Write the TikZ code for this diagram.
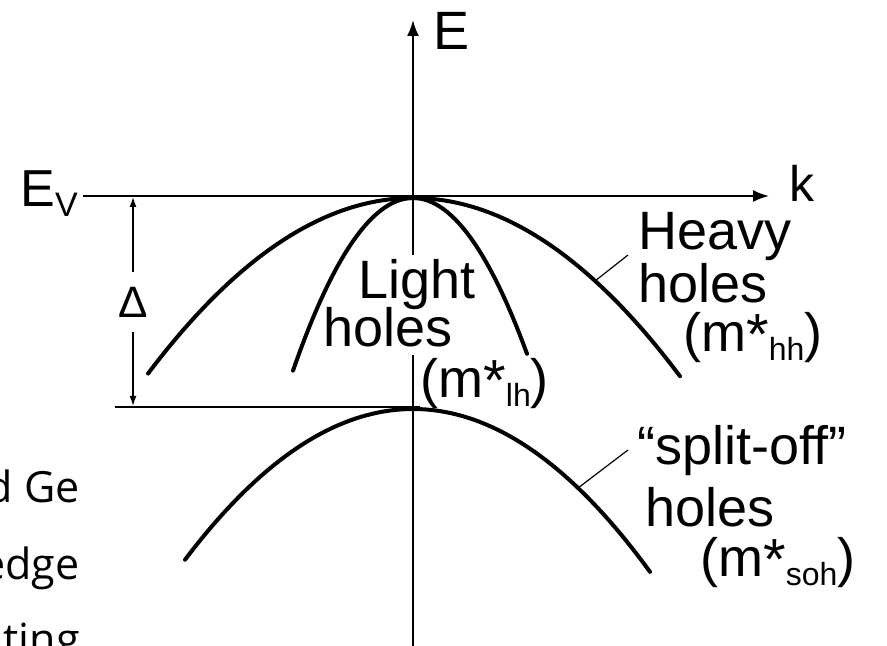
\documentclass[tikz,border=0pt]{standalone}
\usepackage{fontspec}
\setmainfont{Liberation Sans}
\newfontfamily\pagefont{Open Sans}
\usetikzlibrary{arrows.meta,positioning}
\newcommand{\lblsize}{\fontsize{27}{30}\selectfont}
\newcommand{\subsize}{\fontsize{16}{18}\selectfont}
\newcommand{\effmass}[1]{(m\raisebox{-1.5pt}{\fontsize{29}{29}\selectfont *}\raisebox{-4.5pt}{\subsize #1})}
\tikzset{
  band/.style={line width=2pt, line cap=round},
  axis/.style={line width=1pt, -{Latex[length=8pt,width=6pt]}},
  axisline/.style={line width=1pt},
  guide/.style={line width=0.8pt},
  dim/.style={line width=0.7pt, -{Latex[length=5pt,width=3.5pt]}},
  leader/.style={line width=0.6pt},
  lbl/.style={font=\lblsize, inner sep=0pt, anchor=base west},
  pagetext/.style={font=\pagefont\fontsize{21.5}{24}\selectfont, inner sep=0pt, anchor=base east}
}
\begin{document}
\begin{tikzpicture}[x=0.5pt,y=0.5pt]
        \useasboundingbox (0,0) rectangle (887,646);
        \clip (0,0) rectangle (887,646);
        \fill[white] (0,0) rectangle (887,646);
        % axes (E axis broken behind the light-hole label)
        \coordinate (Ebot) at (413,0);
        \coordinate (gapbot) at (413,291);
        \coordinate (gaptop) at (413,391);
        \coordinate (Etip) at (413,626);
        \coordinate (kstart) at (83,450);
        \coordinate (ktip) at (769,450);
        \draw[axisline] (Ebot) -- (gapbot);
        \draw[axis] (gaptop) -- (Etip);
        \draw[axis] (kstart) -- (ktip);
        \node[lbl,font=\fontsize{27}{30}\selectfont] (E) at (433,596) {E};
        \node[lbl,font=\fontsize{25}{28}\selectfont] (k) at (789,444) {k};
        \node[lbl,font=\fontsize{26}{30}\selectfont] (EV) at (20,439)
          {E\raisebox{-5pt}{\fontsize{17}{18}\selectfont V}};
        % split-off level and gap
        \coordinate (sostart) at (115,239);
        \coordinate (soend) at (420,239);
        \draw[guide] (sostart) -- (soend);
        \coordinate (dtop) at (133,449);
        \coordinate (dbot) at (133,240);
        \node[font=\fontsize{22}{24}\selectfont, inner xsep=0pt, inner ysep=7pt] (delta) at (133,344) {Δ};
        \draw[dim] (delta) -- (dtop);
        \draw[dim] (delta) -- (dbot);
        % bands
        \draw[band] plot[domain=148:680, samples=80] (\x, {448-(0.05*(\x-413))^2});
        \draw[band] plot[domain=293:527, samples=60] (\x, {448-(0.1095*(\x-413))^2});
        \draw[band] plot[domain=185:650, samples=80] (\x, {237-(0.05385*(\x-413))^2});
        % labels
        \node[lbl] (light) at (358,347) {Light};
        \node[lbl] (lightholes) at (323,299) {holes};
        \node[lbl] (lhmass) at (420,248) {\effmass{lh}};
        \node[lbl] (heavy) at (638,396) {Heavy};
        \node[lbl] (heavyholes) at (638,343) {holes};
        \node[lbl] (hhmass) at (683,294) {\effmass{hh}};
        \node[lbl] (split) at (637,181) {“split-off”};
        \node[lbl] (splitholes) at (645,119) {holes};
        \node[lbl] (sohmass) at (700,69) {\effmass{soh}};
        \coordinate (hhfoot) at (595,365);
        \coordinate (hhend) at (628,391);
        \draw[leader] (hhfoot) -- (hhend);
        \coordinate (sofoot) at (578,158);
        \coordinate (soleaderend) at (628,196);
        \draw[leader] (sofoot) -- (soleaderend);
        % cut-off page text at the left
        \node[pagetext] (pageA) at (80,143) {d Ge};
        \node[pagetext] (pageB) at (80,66) {edge};
        \node[pagetext] (pageC) at (80,-9) {ting};
      \end{tikzpicture}
\end{document}
